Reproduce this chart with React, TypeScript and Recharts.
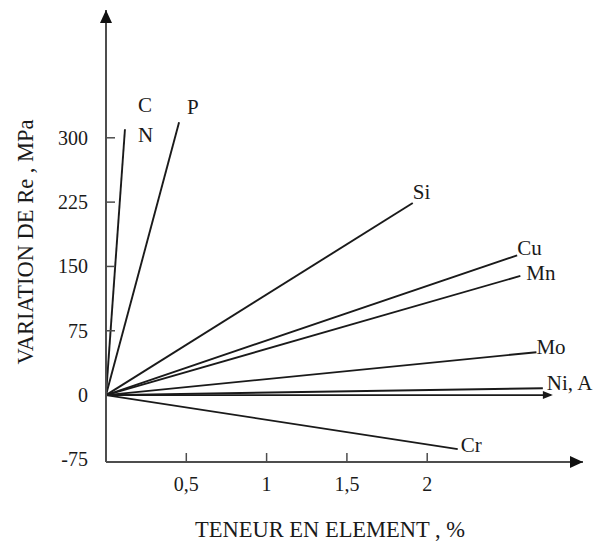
import React from "react"
import { LineChart, Line, XAxis, YAxis, ReferenceDot } from "recharts"

// alloying elements: label lines, content at end of segment (%), Re change (MPa)
const elementLabels: string[][] = [["C", "N"], ["P"], ["Si"], ["Cu"], ["Mn"], ["Mo"], ["Ni, A"], [], ["Cr"]]
const elementContent = [0.118, 0.455, 1.91, 2.56, 2.58, 2.68, 2.72, 2.77, 2.19]
const elementDeltaRe = [310, 318, 224, 163, 139, 50, 8, 0, -63]

const xTicks = [0.5, 1, 1.5, 2]
const yTicks = [-75, 0, 75, 150, 225, 300]
const xDomain: [number, number] = [0, 2.97]
const yDomain: [number, number] = [-78, 449]

// label placement next to the end of each segment [dx, dy]
const labelOffsets: [number, number][] = [
  [13, -24], [8, -15], [0, -11], [0, -7], [6, -3], [0, -5], [4, -5], [0, 0], [3, -4],
]

const FONT = "'Liberation Serif', 'Times New Roman', serif"
const INK = "#1a1a1a"
const AXIS = "#4d4d4d"

const series = elementContent.map((x, i) => ({
  key: `el-${i}`,
  data: [
    { x: 0, y: 0 },
    { x, y: elementDeltaRe[i] },
  ],
  lines: elementLabels[i],
  offset: labelOffsets[i],
  arrow: elementLabels[i].length === 0,
}))

const fmt = (v: number) => String(v).replace(".", ",")

function XTick({ x, y, payload }: any) {
  return (
    <g>
      <line x1={x} y1={y} x2={x} y2={y - 9} stroke={AXIS} strokeWidth={1.5} />
      <text x={x} y={y + 29} textAnchor="middle" fontFamily={FONT} fontSize={20} fill={INK}>
        {fmt(payload.value)}
      </text>
    </g>
  )
}

function YTick({ x, y, payload }: any) {
  return (
    <g>
      {payload.value !== 0 && payload.value !== -75 && (
        <line x1={x} y1={y} x2={x + 9} y2={y} stroke={AXIS} strokeWidth={1.5} />
      )}
      <text x={x - 18} y={y + 7} textAnchor="end" fontFamily={FONT} fontSize={20} fill={INK}>
        {payload.value}
      </text>
    </g>
  )
}

function endDot(lines: string[], offset: [number, number], arrow: boolean) {
  return (p: any) => {
    if (p.index !== 1) return <g key={`d-${p.index}`} />
    const [dx, dy] = offset
    return (
      <g key="end">
        {arrow && (
          <path d={`M${p.cx + 2},${p.cy} L${p.cx - 8},${p.cy - 4} L${p.cx - 8},${p.cy + 4} Z`} fill={INK} />
        )}
        {lines.map((t, k) => (
          <text
            key={t}
            x={p.cx + dx}
            y={p.cy + dy + k * 30 + 7}
            fontFamily={FONT}
            fontSize={21}
            fill={INK}
          >
            {t}
          </text>
        ))}
      </g>
    )
  }
}

export default function App() {
  return (
    <div style={{ position: "absolute", left: 0, top: 0, background: "#fff" }}>
      <LineChart width={593} height={544} margin={{ top: 10, right: 10, bottom: 52, left: 6 }}>
        <XAxis
          type="number"
          dataKey="x"
          domain={xDomain}
          ticks={xTicks}
          allowDecimals
          height={30}
          tickSize={0}
          tickMargin={0}
          tickLine={false}
          axisLine={{ stroke: AXIS, strokeWidth: 2 }}
          tick={<XTick />}
          label={(props: any) => {
            const vb = props.viewBox
            return (
              <text x={vb.x + 224} y={vb.y + 75} textAnchor="middle" fontFamily={FONT} fontSize={22.5} fill={INK}>
                TENEUR EN ELEMENT , %
              </text>
            )
          }}
        />
        <YAxis
          type="number"
          dataKey="y"
          domain={yDomain}
          ticks={yTicks}
          width={100}
          tickSize={0}
          tickMargin={0}
          tickLine={false}
          axisLine={{ stroke: AXIS, strokeWidth: 2 }}
          tick={<YTick />}
          label={() => {
            const cx = 33
            const cy = 242
            return (
              <text
                x={cx}
                y={cy}
                transform={`rotate(-90 ${cx} ${cy})`}
                textAnchor="middle"
                fontFamily={FONT}
                fontSize={22.5}
                fill={INK}
              >
                VARIATION DE Re , MPa
              </text>
            )
          }}
        />
        {series.map((s) => (
          <Line
            key={s.key}
            data={s.data}
            dataKey="y"
            type="linear"
            stroke={INK}
            strokeWidth={1.9}
            dot={endDot(s.lines, s.offset, s.arrow)}
            activeDot={false}
            isAnimationActive={false}
          />
        ))}
        <ReferenceDot
          x={xDomain[0]}
          y={yDomain[1]}
          ifOverflow="visible"
          shape={(p: any) => (
            <path d={`M${p.cx},${p.cy} L${p.cx - 6},${p.cy + 13} L${p.cx + 6},${p.cy + 13} Z`} fill="#111" />
          )}
        />
        <ReferenceDot
          x={xDomain[1]}
          y={yDomain[0]}
          ifOverflow="visible"
          shape={(p: any) => (
            <path d={`M${p.cx},${p.cy} L${p.cx - 13},${p.cy - 6} L${p.cx - 13},${p.cy + 6} Z`} fill="#111" />
          )}
        />
      </LineChart>
    </div>
  )
}
